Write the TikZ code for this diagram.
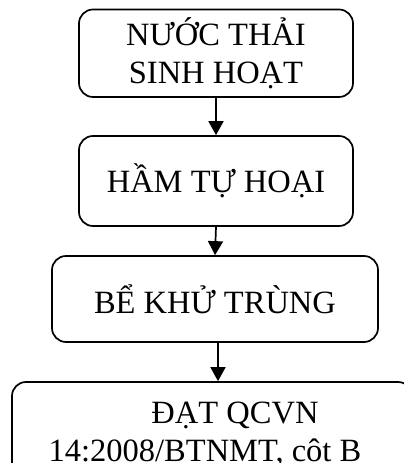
\documentclass[tikz,border=0pt]{standalone}
\usepackage{fontspec}
\setmainfont{Liberation Serif}
\usetikzlibrary{arrows.meta}
\tikzset{
  stepbox/.style={draw=black, line width=1.7pt, rounded corners=14pt, align=center,
    inner sep=0pt, font=\fontsize{32.5}{38}\selectfont},
  arr/.style={line width=1.7pt, -{Triangle[width=15pt,length=14pt]}}
}
\begin{document}
\begin{tikzpicture}[x=1pt,y=1pt]
\useasboundingbox (0,0) rectangle (404,463);
\clip (0,0) rectangle (404,463);
\node[stepbox, minimum width=274pt, minimum height=87.5pt] (b1) at (216,409.75) {NƯỚC THẢI\\SINH HOẠT};
\node[stepbox, minimum width=274pt, minimum height=90pt] (b2) at (216,282) {HẦM TỰ HOẠI};
\node[stepbox, minimum width=326pt, minimum height=86pt] (b3) at (215,164) {BỂ KHỬ TRÙNG};
\node[stepbox, minimum width=400pt, minimum height=104pt] (b4) at (212,29) {\hspace*{46pt}ĐẠT QCVN\\14:2008/BTNMT, cột B\hspace*{14pt}};
\draw[arr] (b1.south) -- (b2.north);
\draw[arr] (b2.south) -- (b3.north);
\draw[arr] ([xshift=3pt]b3.south) -- ([xshift=3pt]b3.south |- b4.north);
\end{tikzpicture}
\end{document}
